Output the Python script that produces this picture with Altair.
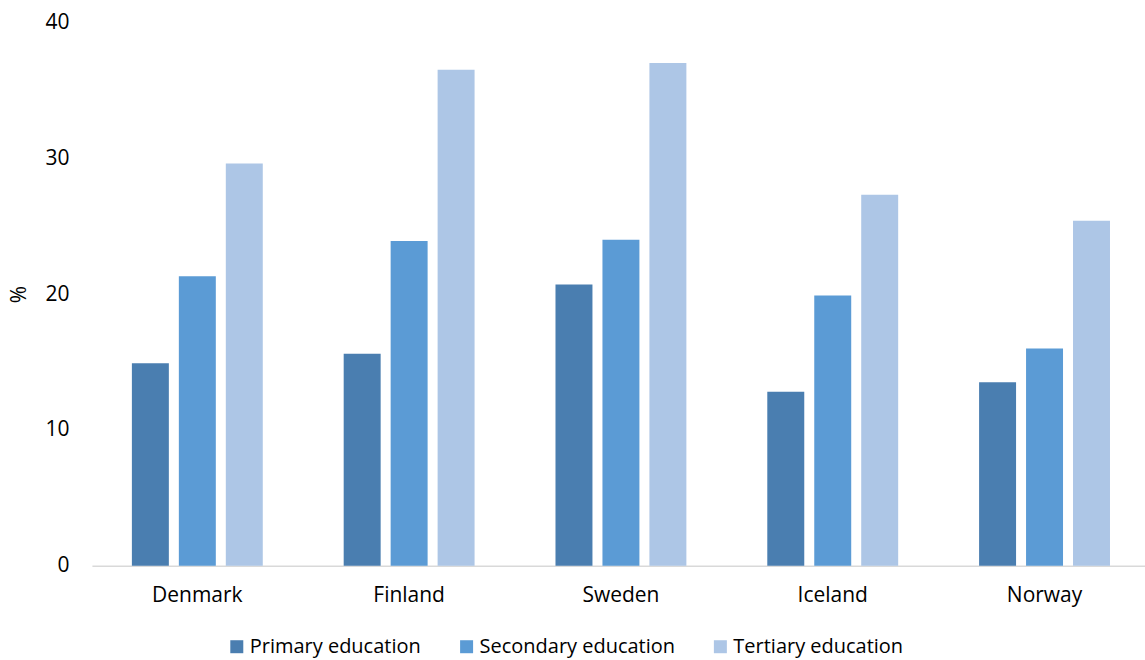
import altair as alt
import pandas as pd

countries = ["Denmark", "Finland", "Sweden", "Iceland", "Norway"]
levels = ["Primary education", "Secondary education", "Tertiary education"]
primary = [14.9, 15.6, 20.7, 12.8, 13.5]
secondary = [21.3, 23.9, 24.0, 19.9, 16.0]
tertiary = [29.6, 36.5, 37.0, 27.3, 25.4]
colors = ["#4a7eb0", "#5b9bd5", "#adc6e6"]

rows = []
for i, c in enumerate(countries):
    for lvl, vals in zip(levels, [primary, secondary, tertiary]):
        rows.append({"country": c, "level": lvl, "value": vals[i]})
df = pd.DataFrame(rows)

FONT = "Open Sans"
FS = 21

chart = alt.Chart(df).mark_bar().encode(
    x=alt.X("country:N", sort=countries, title=None,
            scale=alt.Scale(paddingInner=0.382, paddingOuter=0.177, align=0.533),
            axis=alt.Axis(labelAngle=0, ticks=False, domainColor="#d9d9d9", domainWidth=1.5,
                          labelPadding=19, labelFontSize=FS, labelColor="#000000", labelFont=FONT)),
    xOffset=alt.XOffset("level:N", sort=levels,
                        scale=alt.Scale(paddingInner=0.2128, paddingOuter=0)),
    y=alt.Y("value:Q", title="%", scale=alt.Scale(domain=[0, 40], nice=False),
            axis=alt.Axis(values=[0, 10, 20, 30, 40], grid=False, domain=False, ticks=False,
                          labelPadding=23, labelFontSize=FS, labelColor="#000000", labelFont=FONT,
                          titleFont=FONT, titleFontSize=FS, titleFontWeight="normal", titleColor="#000000",
                          titleX=-72, titleY=272, titleAngle=-90, titleBaseline="middle",
                          titleAlign="center")),
    color=alt.Color("level:N", sort=levels, scale=alt.Scale(domain=levels, range=colors),
                    legend=alt.Legend(title=None, orient="none", direction="horizontal",
                                      legendX=135, legendY=615, symbolType="square", symbolSize=169,
                                      symbolStrokeWidth=0, labelFontSize=20, labelFont=FONT,
                                      labelColor="#000000", labelOffset=3, columnPadding=35,
                                      padding=0, labelLimit=400)),
).properties(
    width=1054, height=544,
    autosize=alt.AutoSizeParams(type="none"),
    padding={"left": 92, "top": 22, "right": 0, "bottom": 94},
).configure_view(stroke=None)

chart.save("out.html", embed_options={"renderer": "svg", "actions": False})
